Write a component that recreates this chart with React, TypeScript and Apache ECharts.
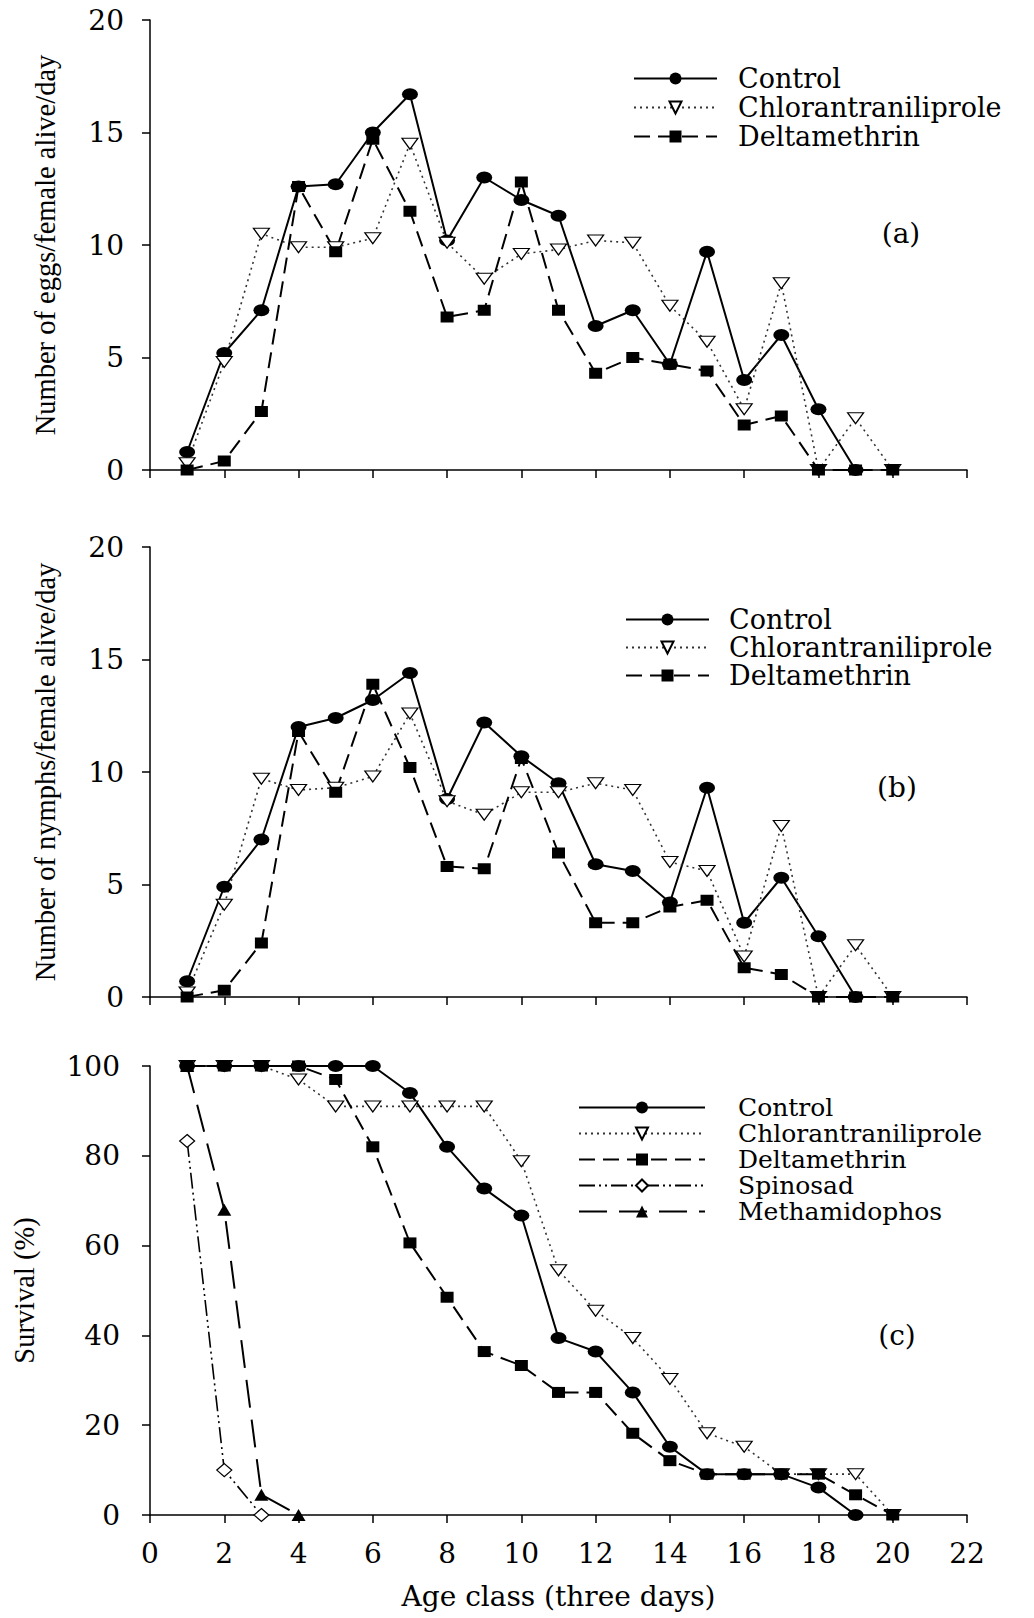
import React, { useEffect, useRef } from "react";
import * as echarts from "echarts";

// ---------- data ----------
const ageClasses = [1, 2, 3, 4, 5, 6, 7, 8, 9, 10, 11, 12, 13, 14, 15, 16, 17, 18, 19, 20];

// (a) eggs / female alive / day
const eggsControl = [0.8, 5.2, 7.1, 12.6, 12.7, 15.0, 16.7, 10.2, 13.0, 12.0, 11.3, 6.4, 7.1, 4.7, 9.7, 4.0, 6.0, 2.7, 0];
const eggsChlorantraniliprole = [0.3, 4.8, 10.5, 9.9, 9.9, 10.3, 14.5, 10.1, 8.5, 9.6, 9.8, 10.2, 10.1, 7.3, 5.7, 2.7, 8.3, 0, 2.3, 0];
const eggsDeltamethrin = [0, 0.4, 2.6, 12.6, 9.7, 14.7, 11.5, 6.8, 7.1, 12.8, 7.1, 4.3, 5.0, 4.7, 4.4, 2.0, 2.4, 0, 0, 0];

// (b) nymphs / female alive / day
const nymphsControl = [0.7, 4.9, 7.0, 12.0, 12.4, 13.2, 14.4, 8.8, 12.2, 10.7, 9.5, 5.9, 5.6, 4.2, 9.3, 3.3, 5.3, 2.7, 0];
const nymphsChlorantraniliprole = [0.2, 4.1, 9.7, 9.2, 9.3, 9.8, 12.6, 8.7, 8.1, 9.1, 9.1, 9.5, 9.2, 6.0, 5.6, 1.8, 7.6, 0, 2.3, 0];
const nymphsDeltamethrin = [0, 0.3, 2.4, 11.8, 9.1, 13.9, 10.2, 5.8, 5.7, 10.6, 6.4, 3.3, 3.3, 4.0, 4.3, 1.3, 1.0, 0, 0, 0];

// (c) survival (%)
const survControl = [100, 100, 100, 100, 100, 100, 94, 82, 72.7, 66.7, 39.4, 36.4, 27.3, 15.2, 9.1, 9.1, 9.1, 6.1, 0];
const survChlorantraniliprole = [100, 100, 100, 97, 91, 91, 91, 91, 91, 78.8, 54.5, 45.5, 39.4, 30.3, 18.2, 15.2, 9.1, 9.1, 9.1, 0];
const survDeltamethrin = [100, 100, 100, 100, 97, 82, 60.6, 48.5, 36.4, 33.3, 27.3, 27.3, 18.2, 12.1, 9.1, 9.1, 9.1, 9.1, 4.5, 0];
const survSpinosad = [83.3, 10, 0];
const survMethamidophos = [100, 68, 4.5, 0];

const xTicks = { min: 0, max: 22, interval: 2 };
const legendABC = ["Control", "Chlorantraniliprole", "Deltamethrin"];
const legendC = ["Control", "Chlorantraniliprole", "Deltamethrin", "Spinosad", "Methamidophos"];

// ---------- styles ----------
const ELLIPSE = "path://M0,6a8,6 0 1,0 16,0a8,6 0 1,0 -16,0z";
const STYLES: Record<string, any> = {
  Control: { symbol: ELLIPSE, size: [16, 12], fill: "#000", bw: 0, width: 2, dash: "solid", rotate: 0 },
  Chlorantraniliprole: { symbol: "triangle", size: [16, 11], fill: "#fff", bw: 1.2, width: 1.6, dash: [2, 4], rotate: 180, color: "#333" },
  Deltamethrin: { symbol: "rect", size: [13, 11], fill: "#000", bw: 0, width: 2, dash: [16, 8], rotate: 0 },
  Spinosad: { symbol: "diamond", size: [15, 13], fill: "#fff", bw: 1.2, width: 1.6, dash: [16, 4, 2, 4, 2, 4], rotate: 0 },
  Methamidophos: { symbol: "triangle", size: [14, 12], fill: "#000", bw: 0, width: 2, dash: [28, 12], rotate: 0 },
};

const SERIF = "DejaVu Serif";
const NAMESERIF = "Liberation Serif";

function makeSeries(name: string, values: number[], idx: number) {
  const s = STYLES[name];
  return {
    type: "line",
    name,
    xAxisIndex: idx,
    yAxisIndex: idx,
    data: values.map((v, i) => [ageClasses[i], v]),
    symbol: s.symbol,
    symbolSize: s.size,
    symbolRotate: s.rotate,
    showSymbol: true,
    clip: false,
    itemStyle: { color: s.fill, borderColor: "#000", borderWidth: s.bw, opacity: 1 },
    lineStyle: { color: s.color || "#000", width: s.width, type: s.dash },
    emphasis: { disabled: true },
  };
}

const GRIDS = [
  { left: 150, top: 20, width: 817, height: 450 },
  { left: 150, top: 547, width: 817, height: 450 },
  { left: 150, top: 1066, width: 817, height: 449 },
];

function xAxis(idx: number, labels: boolean) {
  return {
    type: "value",
    gridIndex: idx,
    ...xTicks,
    axisLine: { show: true, onZero: false, lineStyle: { color: "#000", width: 1.5 } },
    axisTick: { show: true, length: 8, lineStyle: { color: "#000", width: 1.5 } },
    splitLine: { show: false },
    axisLabel: { show: labels, fontFamily: SERIF, fontSize: 28, color: "#000", margin: 24 },
    name: labels ? "Age class (three days)" : "",
    nameLocation: "middle",
    nameGap: 67,
    nameTextStyle: { fontFamily: SERIF, fontSize: 28, color: "#000" },
  };
}

function yAxis(idx: number, max: number, interval: number, name: string, margin: number, gap: number) {
  return {
    type: "value",
    gridIndex: idx,
    min: 0,
    max,
    interval,
    axisLine: { show: true, lineStyle: { color: "#000", width: 1.5 } },
    axisTick: { show: true, length: 8, lineStyle: { color: "#000", width: 1.5 } },
    splitLine: { show: false },
    axisLabel: { fontFamily: SERIF, fontSize: 28, color: "#000", margin },
    name,
    nameLocation: "middle",
    nameGap: gap,
    nameTextStyle: { fontFamily: NAMESERIF, fontSize: 28.5, color: "#000" },
  };
}

function legend(data: string[], left: number, top: number, itemWidth: number, fontSize: number, gap: number, padLeft: number) {
  return {
    orient: "vertical",
    left,
    top,
    padding: 0,
    itemGap: gap,
    itemWidth,
    itemHeight: 15,
    data,
    selectedMode: false,
    textStyle: { fontFamily: SERIF, fontSize, color: "#000", lineHeight: fontSize, padding: [0, 0, 0, padLeft] },
  };
}

export default function App() {
  const ref = useRef<HTMLDivElement>(null);
  useEffect(() => {
    document.body.style.margin = "0";
    if (!ref.current) return;
    const chart = echarts.init(ref.current, null, { renderer: "svg" });
    chart.setOption({
      animation: false,
      backgroundColor: "#fff",
      grid: GRIDS,
      xAxis: [xAxis(0, false), xAxis(1, false), xAxis(2, true)],
      yAxis: [
        yAxis(0, 20, 5, "Number of eggs/female alive/day", 26, 90),
        yAxis(1, 20, 5, "Number of nymphs/female alive/day", 26, 90),
        yAxis(2, 100, 20, "Survival (%)", 30, 111),
      ],
      legend: [
        legend(legendABC, 633, 65, 83, 27, 2, 16),
        legend(legendABC, 625, 606, 83, 27, 1, 15),
        legend(legendC, 578, 1095, 126, 25, 1, 28),
      ],
      graphic: [
        { type: "text", x: 901, y: 233, style: { text: "(a)", font: `28px "${SERIF}"`, fill: "#000", align: "center", verticalAlign: "middle" } },
        { type: "text", x: 897, y: 787, style: { text: "(b)", font: `28px "${SERIF}"`, fill: "#000", align: "center", verticalAlign: "middle" } },
        { type: "text", x: 897, y: 1335, style: { text: "(c)", font: `28px "${SERIF}"`, fill: "#000", align: "center", verticalAlign: "middle" } },
      ],
      series: [
        makeSeries("Control", eggsControl, 0),
        makeSeries("Chlorantraniliprole", eggsChlorantraniliprole, 0),
        makeSeries("Deltamethrin", eggsDeltamethrin, 0),
        makeSeries("Control", nymphsControl, 1),
        makeSeries("Chlorantraniliprole", nymphsChlorantraniliprole, 1),
        makeSeries("Deltamethrin", nymphsDeltamethrin, 1),
        makeSeries("Control", survControl, 2),
        makeSeries("Chlorantraniliprole", survChlorantraniliprole, 2),
        makeSeries("Deltamethrin", survDeltamethrin, 2),
        makeSeries("Spinosad", survSpinosad, 2),
        makeSeries("Methamidophos", survMethamidophos, 2),
      ],
    });
    return () => chart.dispose();
  }, []);
  return <div ref={ref} style={{ width: 1034, height: 1618 }} />;
}
